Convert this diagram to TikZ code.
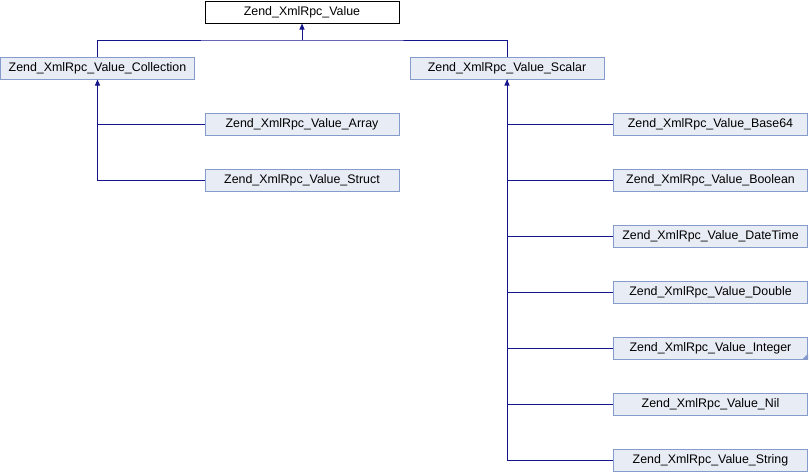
\documentclass[tikz,border=0pt]{standalone}
\usepackage{fontspec}
\setmainfont{Liberation Sans}
\usetikzlibrary{arrows.meta}
\definecolor{boxfill}{RGB}{232,236,245}
\definecolor{boxline}{RGB}{132,155,204}
\definecolor{edgecol}{RGB}{20,20,140}
\tikzset{
  cls/.style={draw=boxline, fill=boxfill, line width=1pt, minimum width=194pt, minimum height=22pt, inner sep=0pt, font=\fontsize{12.4}{14}\selectfont},
  rootcls/.style={cls, draw=black, fill=white},
  edge/.style={draw=edgecol, line width=1pt},
  tip/.style={{Triangle[width=5pt,length=6pt]}-}
}
\begin{document}
\begin{tikzpicture}[x=1pt,y=-1pt]
\useasboundingbox (0,0) rectangle (810,472);
\node[rootcls] (root) at (302,12) {Zend\_XmlRpc\_Value};
\node[cls] (coll) at (97.5,68) {Zend\_XmlRpc\_Value\_Collection};
\node[cls] (scal) at (507,68) {Zend\_XmlRpc\_Value\_Scalar};
\node[cls] (arr) at (302,124) {Zend\_XmlRpc\_Value\_Array};
\node[cls] (str) at (302,180) {Zend\_XmlRpc\_Value\_Struct};
\node[cls] (b64) at (710.5,124) {Zend\_XmlRpc\_Value\_Base64};
\node[cls] (bool) at (710.5,180) {Zend\_XmlRpc\_Value\_Boolean};
\node[cls] (dt) at (710.5,236) {Zend\_XmlRpc\_Value\_DateTime};
\node[cls] (dbl) at (710.5,292) {Zend\_XmlRpc\_Value\_Double};
\node[cls] (int) at (710.5,348) {Zend\_XmlRpc\_Value\_Integer};
\node[cls] (nil) at (710.5,404) {Zend\_XmlRpc\_Value\_Nil};
\node[cls] (strg) at (710.5,460) {Zend\_XmlRpc\_Value\_String};
\fill[boxline] (int.south east) -- ++(0,-6) -- ++(-6,6) -- cycle;
\coordinate (j1) at (302,40);
\draw[edge,tip] (root.south) -- (j1);
\draw[edge] (coll.north) |- (j1) -| (scal.north);
\draw[edge,tip] (coll.south) |- (arr.west);
\draw[edge] (coll.south) |- (str.west);
\draw[edge,tip] (scal.south) |- (b64.west);
\foreach \n in {bool,dt,dbl,int,nil,strg} \draw[edge] (scal.south) |- (\n.west);
\end{tikzpicture}
\end{document}
